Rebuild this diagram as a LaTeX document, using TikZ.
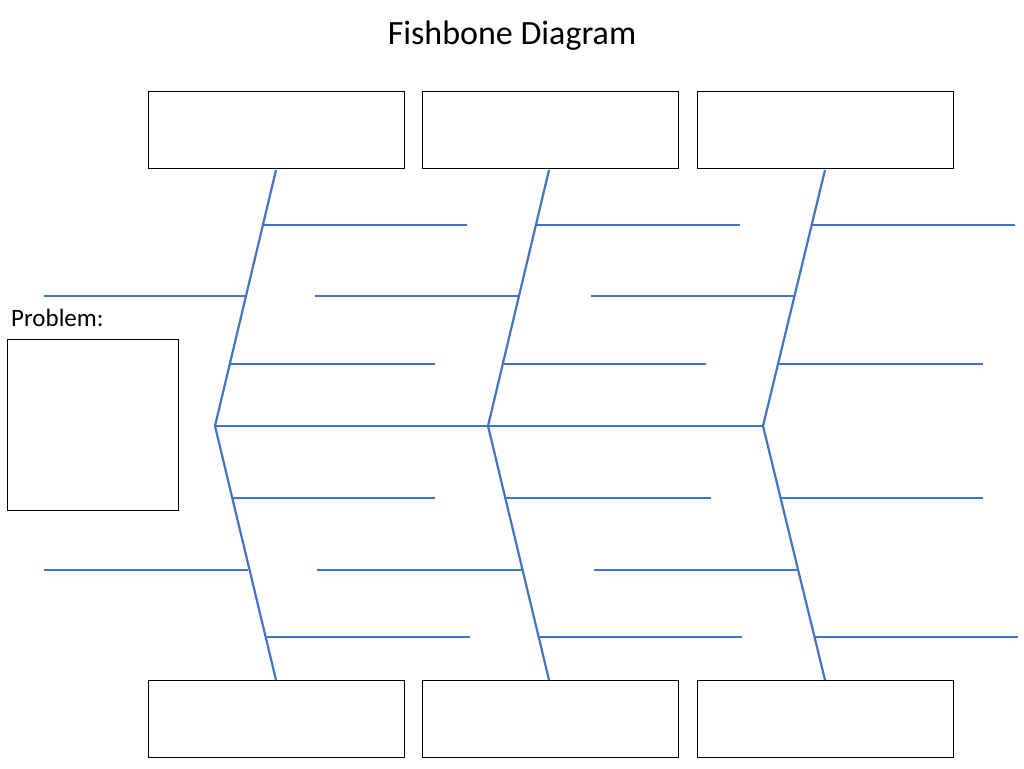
\documentclass[tikz,border=0pt]{standalone}
\usepackage{fontspec}
\setmainfont{Carlito}
\definecolor{bone}{HTML}{4472C4}
\begin{document}
\begin{tikzpicture}[x=1pt,y=-1pt,bx/.style={draw=black,line width=1pt},bn/.style={draw=bone,line width=2.2pt}]
\useasboundingbox (0,0) rectangle (1024,768);
\node[font=\fontsize{34}{40}\selectfont] (title) at (512,36) {Fishbone Diagram};
\node[anchor=west,font=\fontsize{25}{30}\selectfont,inner sep=0] (prob) at (11,318) {Problem:};
\foreach \x in {148,422,697}{
 \draw[bx] (\x,91) rectangle ++(256,77);
 \draw[bx] (\x,680) rectangle ++(256,77);}
\draw[bx] (7,339) rectangle (178,510);
\draw[bn] (215,426) -- (763,426);
\foreach \a/\b in {276/215,549/488,825/763}{
 \draw[bn] (\a,170) -- (\b,426) -- (\a,680);}
\foreach \y/\s/\e in {225/263/467,225/537/740,225/812/1015,296/44/246,296/315/519,296/591/794,364/230/435,364/503/706,364/778/983,
498/232/435,498/506/711,498/780/983,570/44/248,570/317/522,570/594/797,637/267/470,637/540/742,637/815/1018}{
 \draw[bn] (\s,\y) -- (\e,\y);}
\end{tikzpicture}
\end{document}
